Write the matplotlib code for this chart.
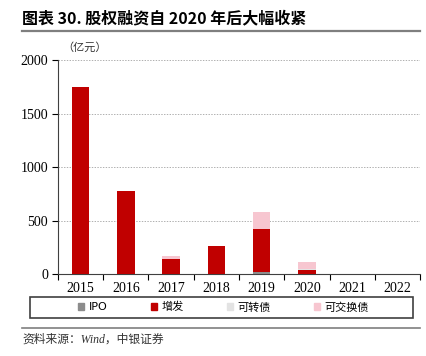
import matplotlib.pyplot as plt
import numpy as np
from matplotlib.lines import Line2D
from matplotlib.patches import Rectangle

plt.rcParams['font.family'] = ['Liberation Serif', 'Noto Sans CJK SC']

# datos (亿元)
anios = ["2015", "2016", "2017", "2018", "2019", "2020", "2021", "2022"]
ipo = [0, 0, 0, 0, 20, 3, 0, 0]
zengfa = [1745, 778, 142, 265, 402, 37, 0, 0]
kezhuanzhai = [0, 0, 0, 0, 0, 6, 0, 0]
kejiaohuan = [0, 0, 30, 0, 155, 70, 0, 0]

series = [("IPO", ipo, "#8c8c8c"),
          ("增发", zengfa, "#c00000"),
          ("可转债", kezhuanzhai, "#e3e3e3"),
          ("可交换债", kejiaohuan, "#f7c6d0")]

fig = plt.figure(figsize=(4.26, 3.56), dpi=100)
ax = fig.add_axes([0.136, 0.230, 0.850, 0.601])

x = np.arange(len(anios))
base = np.zeros(len(anios))
for nombre, vals, color in series:
    ax.bar(x, vals, width=0.39, bottom=base, color=color, zorder=3)
    base = base + np.array(vals)

ax.set_xlim(-0.5, len(anios) - 0.5)
ax.set_ylim(0, 2000)
ax.set_yticks([0, 500, 1000, 1500, 2000])
ax.set_yticklabels(["0", "500", "1000", "1500", "2000"], fontsize=10)
ax.yaxis.grid(True, linestyle=(0, (2, 2)), color="#909090", linewidth=0.5, zorder=0)

# ticks entre categorías
ax.set_xticks(np.arange(-0.5, len(anios)), minor=False)
ax.set_xticklabels([])
ax.set_xticks(x, minor=True)
ax.set_xticklabels(anios, minor=True, fontsize=10)
ax.tick_params(axis="x", which="major", direction="out", length=4, width=0.8)
ax.tick_params(axis="x", which="minor", length=0, pad=6)
ax.tick_params(axis="y", direction="out", length=4, width=0.8, pad=3)

for s in ["top", "right"]:
    ax.spines[s].set_visible(False)
ax.spines["left"].set_color("#404040")
ax.spines["bottom"].set_color("#404040")

# título y líneas
fig.text(0.052, 0.948, "图表 30. 股权融资自 2020 年后大幅收紧", fontsize=11.5,
         fontweight="bold", family=["Noto Sans CJK SC"], va="center")
fig.add_artist(Line2D([0.052, 0.986], [0.913, 0.913], color="#7f7f7f", linewidth=1.6))
fig.text(0.147, 0.868, "（亿元）", fontsize=8, family=["Noto Sans CJK SC"],
         va="center", color="#333333")

# leyenda con marco propio
fig.add_artist(Rectangle((0.070, 0.107), 0.899, 0.059, transform=fig.transFigure,
                         fill=False, edgecolor="#404040", linewidth=1.2))
handles = [plt.Rectangle((0, 0), 1, 1, color=c) for _, _, c in series]
fig.legend(handles, [n for n, _, _ in series], ncol=4,
           bbox_to_anchor=(0.525, 0.137), loc="center", frameon=False,
           handlelength=0.55, handleheight=0.55, handletextpad=0.4,
           columnspacing=3.9,
           prop={"family": ["DejaVu Sans", "Noto Sans CJK SC"], "size": 8})

fig.add_artist(Line2D([0.052, 0.986], [0.079, 0.079], color="#7f7f7f", linewidth=1.2))
fig.text(0.052, 0.045, "资料来源：Wind，中银证券", fontsize=8.5, style="italic",
         family=["Liberation Serif", "Noto Sans CJK SC"], va="center", color="#333333")

plt.savefig("out.png", dpi=100)
